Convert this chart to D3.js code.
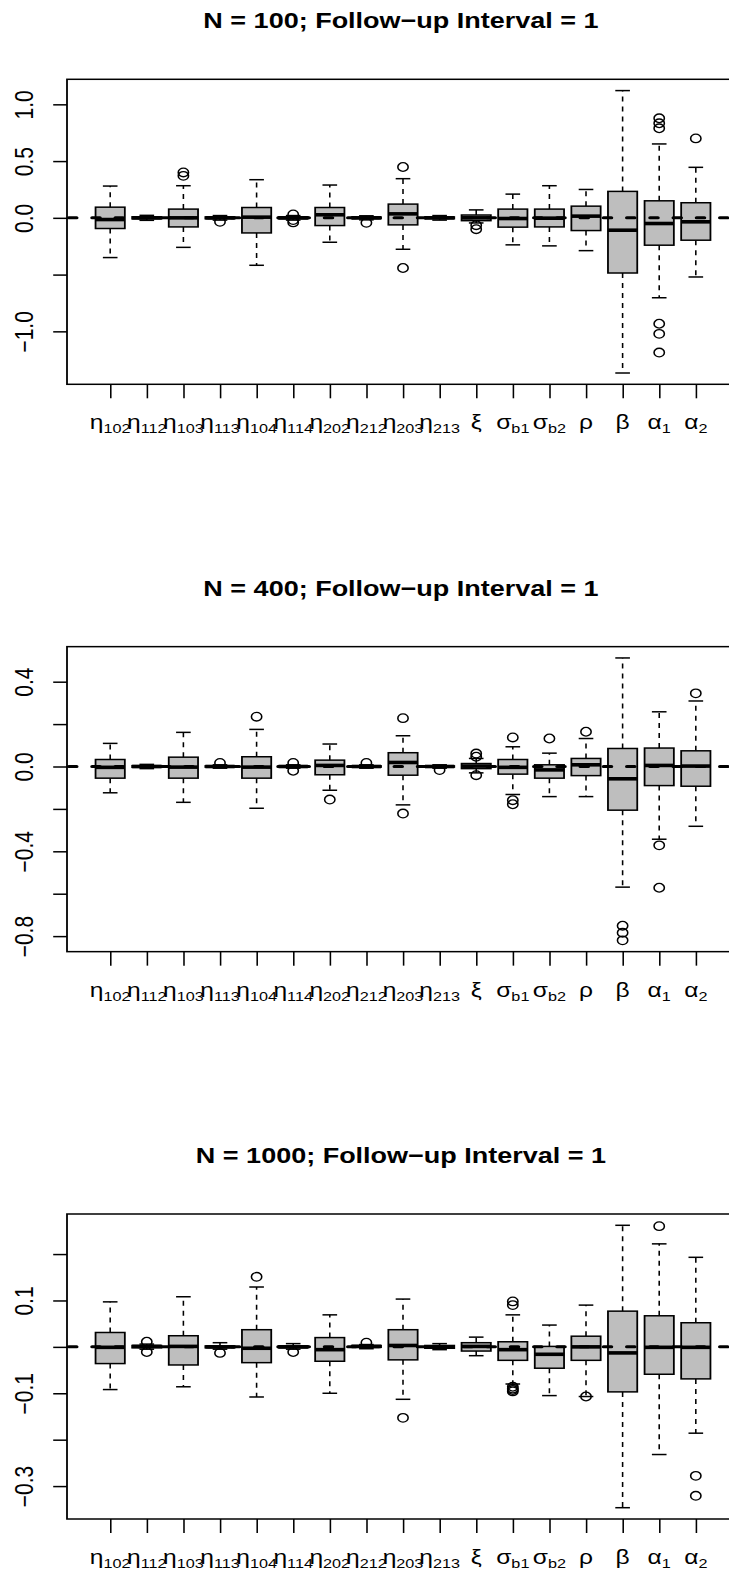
<!DOCTYPE html>
<html><head><meta charset="utf-8">
<script src="https://cdn.jsdelivr.net/npm/d3@7"></script>
<style>body{margin:0;background:#fff}svg{display:block}</style>
</head><body>
<script>
// ---------- data ----------
const categories = [["η","102"],["η","112"],["η","103"],["η","113"],["η","104"],["η","114"],
  ["η","202"],["η","212"],["η","203"],["η","213"],["ξ",""],["σ","b1"],["σ","b2"],["ρ",""],["β",""],["α","1"],["α","2"]];
const titles = ["N = 100; Follow\u2212up Interval = 1","N = 400; Follow\u2212up Interval = 1","N = 1000; Follow\u2212up Interval = 1"];

// N = 100
const n100Lower  = [-0.35,-0.022,-0.26,-0.02,-0.418,-0.02,-0.215,-0.018,-0.277,-0.02,-0.045,-0.238,-0.247,-0.289,-1.367,-0.704,-0.521];
const n100Q1     = [-0.094,-0.009,-0.08,-0.008,-0.133,-0.008,-0.068,-0.007,-0.062,-0.008,-0.025,-0.082,-0.08,-0.112,-0.486,-0.241,-0.197];
const n100Median = [-0.015,0,0,0,0.006,0,0.027,0,0.035,0,0,-0.006,-0.003,0.015,-0.109,-0.05,-0.035];
const n100Q3     = [0.094,0.009,0.077,0.008,0.091,0.008,0.091,0.007,0.121,0.008,0.025,0.077,0.077,0.103,0.233,0.15,0.133];
const n100Upper  = [0.28,0.022,0.283,0.02,0.336,0.02,0.289,0.018,0.345,0.02,0.07,0.209,0.283,0.25,1.121,0.651,0.445];
const n100Outliers = [[],[],[0.37,0.40],[-0.035],[],[0.03,-0.02,-0.04],[],[-0.044],[0.448,-0.442],[],[-0.065,-0.1],[],[],[],[],
  [0.789,0.833,0.877,-0.933,-1.022,-1.187],[0.70]];
const n100Ticks = [-1.0,-0.5,0.0,0.5,1.0];
const n100TickLabels = ["\u22121.0","","0.0","0.5","1.0"];

// N = 400
const n400Lower  = [-0.124,-0.01,-0.169,-0.008,-0.197,-0.008,-0.112,-0.008,-0.181,-0.008,-0.03,-0.132,-0.142,-0.142,-0.569,-0.343,-0.282];
const n400Q1     = [-0.055,-0.004,-0.055,-0.003,-0.055,-0.003,-0.039,-0.003,-0.041,-0.003,-0.01,-0.036,-0.055,-0.043,-0.206,-0.09,-0.093];
const n400Median = [-0.004,0,-0.003,0,-0.003,0,0.005,0,0.019,0,0.002,-0.004,-0.016,0.008,-0.058,0.005,0.002];
const n400Q3     = [0.033,0.004,0.044,0.003,0.046,0.003,0.03,0.003,0.065,0.003,0.014,0.033,0.008,0.038,0.085,0.087,0.074];
const n400Upper  = [0.109,0.01,0.161,0.008,0.175,0.008,0.106,0.008,0.145,0.008,0.038,0.093,0.063,0.132,0.512,0.258,0.309];
const n400Outliers = [[],[],[],[0.017],[0.235],[0.017,-0.02],[-0.156],[0.017],[0.228,-0.222],[-0.017],[0.061,0.046,-0.041],
  [0.137,-0.159,-0.178],[0.132],[0.164],[-0.751,-0.784,-0.82],[-0.372,-0.572],[0.345]];
const n400Ticks = [-0.8,-0.6,-0.4,-0.2,0.0,0.2,0.4];
const n400TickLabels = ["\u22120.8","","\u22120.4","","0.0","","0.4"];

// N = 1000
const n1000Lower  = [-0.092,-0.005,-0.086,-0.005,-0.108,-0.005,-0.1,-0.004,-0.113,-0.006,-0.019,-0.08,-0.105,-0.107,-0.3466,-0.232,-0.186];
const n1000Q1     = [-0.036,-0.002,-0.039,-0.002,-0.034,-0.002,-0.031,-0.001,-0.028,-0.003,-0.009,-0.029,-0.046,-0.029,-0.097,-0.059,-0.069];
const n1000Median = [-0.001,0.001,0.001,0,-0.003,0,-0.006,0.001,0.003,0,0.001,-0.006,-0.016,0,-0.013,-0.001,-0.001];
const n1000Q3     = [0.031,0.003,0.024,0.002,0.037,0.002,0.02,0.003,0.037,0.003,0.009,0.011,0.001,0.023,0.077,0.067,0.052];
const n1000Upper  = [0.097,0.006,0.108,0.009,0.129,0.007,0.069,0.005,0.103,0.007,0.021,0.069,0.047,0.09,0.262,0.222,0.193];
const n1000Outliers = [[],[0.011,-0.011],[],[-0.013],[0.151],[-0.011],[],[0.009],[-0.153],[],[],
  [0.09,0.098,-0.086,-0.09,-0.093,-0.096],[],[-0.107],[],[0.2602],[-0.278,-0.321]];
const n1000Ticks = [-0.3,-0.2,-0.1,0.0,0.1,0.2];
const n1000TickLabels = ["\u22120.3","","\u22120.1","","0.1",""];

const panels = [
  {title:titles[0], lower:n100Lower, q1:n100Q1, med:n100Median, q3:n100Q3, upper:n100Upper, out:n100Outliers, ticks:n100Ticks, labels:n100TickLabels},
  {title:titles[1], lower:n400Lower, q1:n400Q1, med:n400Median, q3:n400Q3, upper:n400Upper, out:n400Outliers, ticks:n400Ticks, labels:n400TickLabels},
  {title:titles[2], lower:n1000Lower, q1:n1000Q1, med:n1000Median, q3:n1000Q3, upper:n1000Upper, out:n1000Outliers, ticks:n1000Ticks, labels:n1000TickLabels}
];

// ---------- layout ----------
const W = 729, H = 1573, SX = 1.2;
const FONT = "'Liberation Sans', Arial, Helvetica, sans-serif";
const svg = d3.select("body").append("svg").attr("width", W).attr("height", H);
const root = svg.append("g").attr("transform", `scale(${SX},1)`);
const plotL = 67 / SX, plotR = 739 / SX;
const n = categories.length;
const x = d3.scaleLinear().domain([0.5 - 0.04 * n, n + 0.5 + 0.04 * n]).range([plotL, plotR]);
const pos = d3.range(1, n + 1);

panels.forEach((p, k) => {
  const top = 79.3 + k * 567.35, bottom = top + 305;
  const all = [...p.lower, ...p.upper, ...p.out.flat()];
  const [mn, mx] = d3.extent(all);
  const pad = 0.04 * (mx - mn);
  const y = d3.scaleLinear().domain([mn - pad, mx + pad]).range([bottom, top]);
  const g = root.append("g");

  const clipId = "clip" + k;
  g.append("clipPath").attr("id", clipId).append("rect")
    .attr("x", plotL).attr("y", top).attr("width", plotR - plotL).attr("height", bottom - top);

  // title
  g.append("text").attr("x", 401 / SX).attr("y", top - 51)
    .attr("text-anchor", "middle").attr("font-family", FONT).attr("font-weight", "bold")
    .attr("font-size", 22.5).attr("fill", "#000").text(p.title);

  const boxes = g.append("g");
  const bw = 0.4, sw = 0.2;
  pos.forEach((c, i) => {
    const b = boxes.append("g");
    // whiskers
    b.append("line").attr("x1", x(c)).attr("x2", x(c)).attr("y1", y(p.q3[i])).attr("y2", y(p.upper[i]))
      .attr("stroke", "#000").attr("stroke-width", 1.3).attr("stroke-dasharray", "5,5");
    b.append("line").attr("x1", x(c)).attr("x2", x(c)).attr("y1", y(p.q1[i])).attr("y2", y(p.lower[i]))
      .attr("stroke", "#000").attr("stroke-width", 1.3).attr("stroke-dasharray", "5,5");
    // staples
    [p.upper[i], p.lower[i]].forEach(v => {
      b.append("line").attr("x1", x(c - sw)).attr("x2", x(c + sw)).attr("y1", y(v)).attr("y2", y(v))
        .attr("stroke", "#000").attr("stroke-width", 1.5);
    });
    // box
    b.append("rect").attr("x", x(c - bw)).attr("width", x(c + bw) - x(c - bw))
      .attr("y", y(p.q3[i])).attr("height", Math.max(0, y(p.q1[i]) - y(p.q3[i])))
      .attr("fill", "#BEBEBE").attr("stroke", "#000").attr("stroke-width", 1.5);
    // median
    b.append("line").attr("x1", x(c - bw)).attr("x2", x(c + bw)).attr("y1", y(p.med[i])).attr("y2", y(p.med[i]))
      .attr("stroke", "#000").attr("stroke-width", 3.6);
    // outliers
    p.out[i].forEach(v => {
      b.append("circle").attr("cx", x(c)).attr("cy", y(v)).attr("r", 4.3)
        .attr("fill", "none").attr("stroke", "#000").attr("stroke-width", 1.3);
    });
  });

  // reference line at 0
  g.append("line").attr("clip-path", `url(#${clipId})`)
    .attr("x1", plotL).attr("x2", plotR).attr("y1", y(0)).attr("y2", y(0))
    .attr("stroke", "#000").attr("stroke-width", 3).attr("stroke-linecap", "round")
    .attr("stroke-dasharray", "6.6,12.775").attr("stroke-dashoffset", -1.5);

  // frame
  g.append("rect").attr("x", plotL).attr("y", top).attr("width", plotR - plotL).attr("height", bottom - top)
    .attr("fill", "none").attr("stroke", "#000").attr("stroke-width", 1.5);

  // y axis
  const ya = g.append("g").attr("transform", `translate(${plotL},0)`)
    .call(d3.axisLeft(y).tickValues(p.ticks).tickSize(11.5).tickSizeOuter(0).tickFormat((d, i) => p.labels[i]));
  ya.select(".domain").remove();
  ya.selectAll(".tick line").attr("stroke", "#000").attr("stroke-width", 1.5);
  ya.selectAll(".tick text").attr("x", null).attr("dy", null).attr("y", null)
    .attr("text-anchor", "middle").attr("font-family", FONT).attr("font-size", 21).attr("fill", "#000")
    .attr("transform", `translate(${27.5 - plotL},0) rotate(-90)`);

  // x axis
  const xa = g.append("g").attr("transform", `translate(0,${bottom})`)
    .call(d3.axisBottom(x).tickValues(pos).tickSize(14).tickSizeOuter(0).tickFormat(""));
  xa.select(".domain").remove();
  xa.selectAll(".tick line").attr("stroke", "#000").attr("stroke-width", 1.3);

  const lab = g.append("g");
  pos.forEach((c, i) => {
    const t = lab.append("text").attr("x", x(c)).attr("y", bottom + 45)
      .attr("text-anchor", "middle").attr("font-family", FONT).attr("font-size", 20.5).attr("fill", "#000");
    t.append("tspan").text(categories[i][0]);
    if (categories[i][1]) t.append("tspan").attr("font-size", 13.5).attr("dy", 4).text(categories[i][1]);
  });
});
</script>
</body></html>
